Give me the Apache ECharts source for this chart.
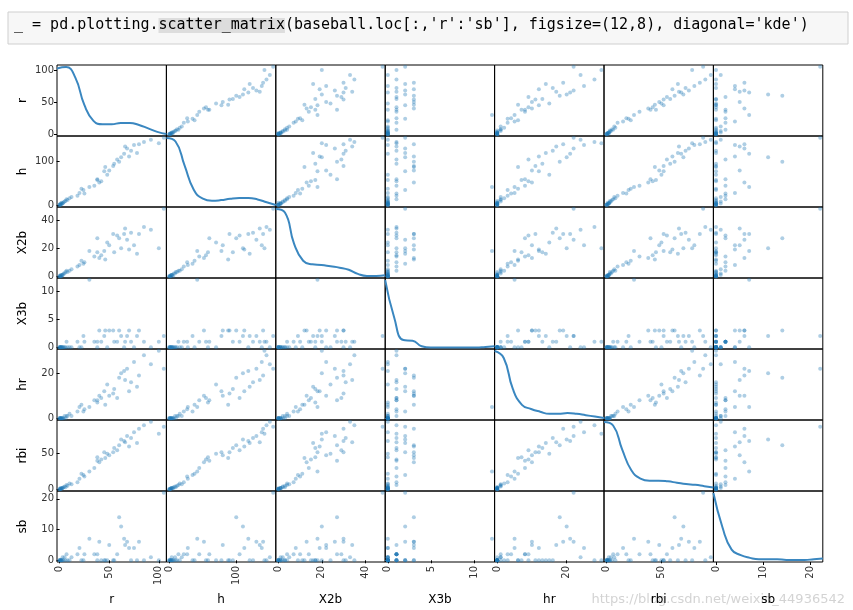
<!DOCTYPE html><html><head><meta charset="utf-8"><script src="https://cdn.jsdelivr.net/npm/echarts@6/dist/echarts.min.js"></script>
<style>body{margin:0;background:#fff}#c{width:853px;height:610px}</style></head><body><div id="c"></div><script>
const names=['r','h','X2b','X3b','hr','rbi','sb'];
const players=[
[0,0,0,0,0,0,0],[0,1,0,0,0,0,0],[1,2,0,0,0,1,0],[2,3,1,0,0,1,0],[1,4,1,0,0,2,0],[3,5,1,0,0,2,0],[4,7,2,0,0,3,0],[5,9,2,0,1,4,1],[6,10,3,0,0,3,0],[2,6,0,0,0,1,0],[8,12,3,0,1,5,0],[3,4,1,0,0,2,1],[7,14,4,1,1,6,2],[10,16,4,0,2,8,0],[12,19,5,0,1,7,1],[0,2,0,0,0,0,0],[1,1,0,0,0,0,0],
[18,22,7,1,3,10,2],[20,28,8,0,5,15,4],[25,27,10,1,4,18,2],[22,38,11,0,6,22,0],[24,35,9,2,3,20,0],[35,45,14,1,8,30,2],[40,52,13,3,10,38,6],[38,58,17,0,7,45,0],[42,55,15,1,9,42,0],[45,78,18,2,12,52,0],[50,80,22,3,10,48,5],[48,70,24,0,15,50,0],[55,95,17,1,13,58,0],[60,100,27,3,18,62,14],[58,105,29,1,9,55,2],[62,110,20,2,20,70,11],[65,118,30,0,21,68,7],[70,112,19,3,12,60,4],[72,125,31,1,16,72,0],[68,130,26,2,22,75,6],[75,138,22,0,25,80,4],[80,140,30,3,19,85,6],[85,145,35,1,28,90,0],[78,120,16,2,14,65,0],[92,150,33,0,24,95,1],[105,155,48,2,22,88,22],[100,142,20,1,30,78,0],[54,90,30,3,11,52,0],[38,60,27,1,8,40,2],[30,42,18,12,5,25,7],[66,135,34,1,17,66,5],[46,88,12,3,6,44,0]];
const ranges=[[0,105],[0,155],[0,48],[0,12],[0,30],[0,95],[0,22]];
const ticks=[[0,50,100],[0,100],[0,20,40],[0,5,10],[0,20],[0,50],[0,10,20]];
const kde=[
[0.98,1.0,0.85,0.45,0.22,0.17,0.17,0.19,0.19,0.16,0.11,0.06,0.03],
[1.0,0.95,0.6,0.25,0.12,0.09,0.10,0.12,0.13,0.13,0.11,0.07,0.03],
[1.0,0.95,0.5,0.25,0.2,0.19,0.17,0.15,0.12,0.06,0.03,0.03,0.04],
[1.0,0.45,0.13,0.12,0.04,0.02,0.02,0.02,0.02,0.02,0.02,0.03,0.04],
[1.0,0.9,0.45,0.22,0.16,0.12,0.09,0.09,0.1,0.09,0.07,0.05,0.03],
[1.0,0.95,0.6,0.3,0.18,0.15,0.15,0.14,0.12,0.1,0.09,0.07,0.05],
[1.0,0.5,0.18,0.1,0.06,0.04,0.04,0.04,0.03,0.03,0.03,0.04,0.05]];
const X0=57,W=109.4,Y0=65,H=71;
const grid=[],xAxis=[],yAxis=[],series=[];
const lbl={color:'#333',fontSize:10,fontFamily:'DejaVu Sans'};
function ext(k){const [a,b]=ranges[k];const d=(b-a)*0.025;return [a-d,b+d];}
for(let i=0;i<7;i++)for(let j=0;j<7;j++){
 const g=grid.length;
 grid.push({left:X0+j*W,top:Y0+i*H,width:W,height:H,show:true,borderColor:'#000',borderWidth:1,backgroundColor:'transparent'});
 const ex=ext(j),ey=ext(i),bottom=i==6,left=j==0;
 const mkAxis=(e,k,show,name,isX)=>({type:'value',gridIndex:g,min:e[0],max:e[1],position:isX?'bottom':'left',
   axisLine:{show:false},splitLine:{show:false},
   axisTick:{show:show,length:3,lineStyle:{color:'#000'},customValues:ticks[k]},
   axisLabel:{show:show,...lbl,rotate:isX?90:0,customValues:ticks[k],margin:isX?4:3},
   name:show?name:'',nameLocation:'middle',nameGap:isX?32:28,nameRotate:isX?0:90,nameTextStyle:{color:'#000',fontSize:12,fontFamily:'DejaVu Sans'}});
 xAxis.push(mkAxis(ex,j,bottom,names[j],true));
 if(i==j){
   yAxis.push({type:'value',gridIndex:g,min:0,max:1.03,show:false,position:'right'});
   const xi=xAxis.length;
   xAxis.push({type:'value',gridIndex:g,min:0,max:12,show:false,position:'top'});
   series.push({type:'line',xAxisIndex:xi,yAxisIndex:yAxis.length-1,smooth:true,symbol:'none',
     lineStyle:{color:'#3a87c0',width:2},data:kde[i].map((v,t)=>[t,v]),silent:true});
   if(left){yAxis.push(mkAxis(ey,i,true,names[i],false));}
 }else{
   yAxis.push(mkAxis(ey,i,left,names[i],false));
   series.push({type:'scatter',xAxisIndex:xAxis.length-1,yAxisIndex:yAxis.length-1,symbolSize:4,
     itemStyle:{color:'rgba(31,119,180,0.45)'},data:players.map(p=>[p[j],p[i]]),silent:true});
 }
}
const chart=echarts.init(document.getElementById('c'));
chart.setOption({animation:false,grid,xAxis,yAxis,series,
 graphic:[{type:'rect',shape:{x:8,y:12,width:840,height:32},style:{fill:'#f7f7f7',stroke:'#cfcfcf'}},
 {type:'text',left:14,top:18,style:{rich:{a:{fontFamily:'DejaVu Sans Mono',fontSize:15,color:'#333'},h:{fontFamily:'DejaVu Sans Mono',fontSize:15,color:'#333',backgroundColor:'#ddd'},s:{fontFamily:'DejaVu Sans Mono',fontSize:15,color:'#b22'},n:{fontFamily:'DejaVu Sans Mono',fontSize:15,color:'#080'}},
  text:"{a|_ = pd.plotting.}{h|scatter_matrix}{a|(baseball.loc[:,}{s|'r'}{a|:}{s|'sb'}{a|], figsize=(}{n|12}{a|,}{n|8}{a|), diagonal=}{s|'kde'}{a|)}"}},
 {type:'text',right:8,bottom:4,style:{text:'https://blog.csdn.net/weixin_44936542',fontSize:13,fill:'rgba(200,200,200,0.8)',fontFamily:'DejaVu Sans'}}]});
</script></body></html>
